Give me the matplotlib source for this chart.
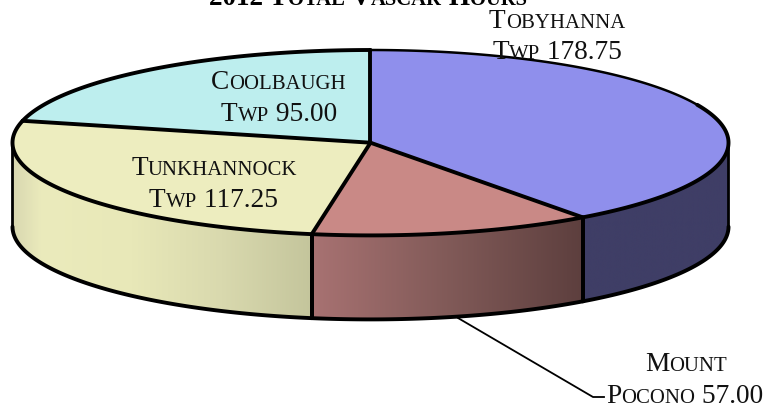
"""Recreate the 2012 vascar hours pie, drawn by hand to get the 3D wall"""

import numpy as np
import matplotlib
matplotlib.use('Agg')
import matplotlib.pyplot as plt
from matplotlib.colors import LinearSegmentedColormap
from matplotlib.patches import Polygon

names = ['Tobyhanna Twp', 'Mount Pocono', 'Tunkhannock Twp', 'Coolbaugh Twp']
hours = [178.75, 57.00, 117.25, 95.00]
title = '2012 Total Vascar Hours'

top_colors = ['#8f8fec', '#c98986', '#ededbf', '#bdeeee']
wall_colors = [
    [(0.0, '#3f3e66'), (1.0, '#3f3e66')],
    [(0.0, '#a87272'), (0.5, '#815a58'), (1.0, '#5d3f3e')],
    [(0.0, '#d8d7b0'), (0.1, '#ebebbc'), (0.4, '#e8e8b8'), (0.7, '#d9d9ae'), (1.0, '#c4c59c')],
]

cx, cy = 370.5, 142.7   # centre of the top ellipse, pixels
rx, ry = 358.0, 92.7    # radii of the top ellipse
depth = 84.0            # height of the wall
lw = 2.8
fs = 19.7
font = 'Liberation Serif'

fig = plt.figure(figsize=(7.65, 4.09), dpi=100)
ax = fig.add_axes([0, 0, 1, 1])


def arc(t0, t1, dy=0.0, n=120):
    t = np.linspace(t0, t1, n)
    return np.column_stack([cx + rx * np.sin(t), cy + dy - ry * np.cos(t)])


# angle is clockwise from the top of the pie
edges = np.concatenate([[0.0], np.cumsum(hours)]) / np.sum(hours) * 2 * np.pi

# walls, only the front half of the pie is seen
for i in range(3):
    t0 = max(edges[i], np.pi / 2)
    t1 = min(edges[i + 1], 3 * np.pi / 2)
    top = arc(t0, t1)
    bottom = arc(t0, t1, depth)
    outline = np.vstack([top, bottom[::-1]])
    x0, x1 = outline[:, 0].min(), outline[:, 0].max()
    cmap = LinearSegmentedColormap.from_list('wall%d' % i, wall_colors[i])
    im = ax.imshow(np.linspace(0, 1, 256).reshape(1, -1), cmap=cmap, aspect='auto',
                   extent=[x0, x1, outline[:, 1].max(), outline[:, 1].min()], zorder=1)
    im.set_clip_path(Polygon(outline, closed=True, transform=ax.transData))
    ax.plot(bottom[:, 0], bottom[:, 1], color='black', lw=lw, zorder=2, solid_capstyle='round')
    ax.plot([top[-1, 0], bottom[-1, 0]], [top[-1, 1], bottom[-1, 1]], color='black',
            lw=2.0 if i == 2 else lw, zorder=2)
    ax.plot([top[0, 0], bottom[0, 0]], [top[0, 1], bottom[0, 1]], color='black',
            lw=2.0 if i == 0 else lw, zorder=2)

# top of the pie, faces first and then the lines
for i in range(4):
    pts = np.vstack([[cx, cy], arc(edges[i], edges[i + 1])])
    ax.add_patch(Polygon(pts, closed=True, facecolor=top_colors[i], edgecolor='none', zorder=3))
for i in range(4):
    p = arc(edges[i], edges[i], n=1)[0]
    ax.plot([cx, p[0]], [cy, p[1]], color='black', lw=lw, zorder=4, solid_capstyle='round')
    if i == 0:
        # the outline is thinner over the top of the big slice
        rim = arc(edges[0], 1.15)
        ax.plot(rim[:, 0], rim[:, 1], color='black', lw=1.8, zorder=4)
        rim = arc(1.15, edges[1])
    else:
        rim = arc(edges[i], edges[i + 1])
    ax.plot(rim[:, 0], rim[:, 1], color='black', lw=lw, zorder=4, solid_capstyle='round')

# leader line of the small slice
ax.plot([458, 593, 604], [318, 397, 397], color='black', lw=1.3, zorder=2)

ax.set_xlim(0, 765)
ax.set_ylim(409, 0)
ax.axis('off')

renderer = fig.canvas.get_renderer()


def run_width(s, size, weight):
    # the x on each side keeps the spaces in the measure
    a = ax.text(0, 0, 'x' + s + 'x', fontsize=size, family=font, fontweight=weight)
    b = ax.text(0, 0, 'xx', fontsize=size, family=font, fontweight=weight)
    w = a.get_window_extent(renderer).width - b.get_window_extent(renderer).width
    a.remove()
    b.remove()
    return w


def small_caps(s, x, y, size=fs, weight='normal', color='#111111'):
    # x is the centre of the line and y its baseline, pixels
    runs = []
    for ch in s:
        small = ch.islower()
        if runs and runs[-1][1] == small:
            runs[-1][0] += ch.upper()
        else:
            runs.append([ch.upper(), small])
    sizes = [size * 0.76 if r[1] else size for r in runs]
    widths = [run_width(r[0], z, weight) for r, z in zip(runs, sizes)]
    pos = x - sum(widths) / 2
    for r, z, w in zip(runs, sizes, widths):
        ax.text(pos, y, r[0], fontsize=z, family=font, fontweight=weight, color=color,
                ha='left', va='baseline', zorder=5)
        pos += w


small_caps(title, 368, 5, size=19.6, weight='bold', color='black')

first, second = names[0].split(' ')
small_caps(first, 557, 28)
small_caps('%s %.2f' % (second, hours[0]), 557, 59)

first, second = names[1].split(' ')
small_caps(first, 686, 371)
small_caps('%s %.2f' % (second, hours[1]), 685, 403)

first, second = names[2].split(' ')
small_caps(first, 214.5, 175)
small_caps('%s %.2f' % (second, hours[2]), 213.5, 207)

first, second = names[3].split(' ')
small_caps(first, 278, 89)
small_caps('%s %.2f' % (second, hours[3]), 279, 121)

fig.savefig('out.png', dpi=100, facecolor='white')
